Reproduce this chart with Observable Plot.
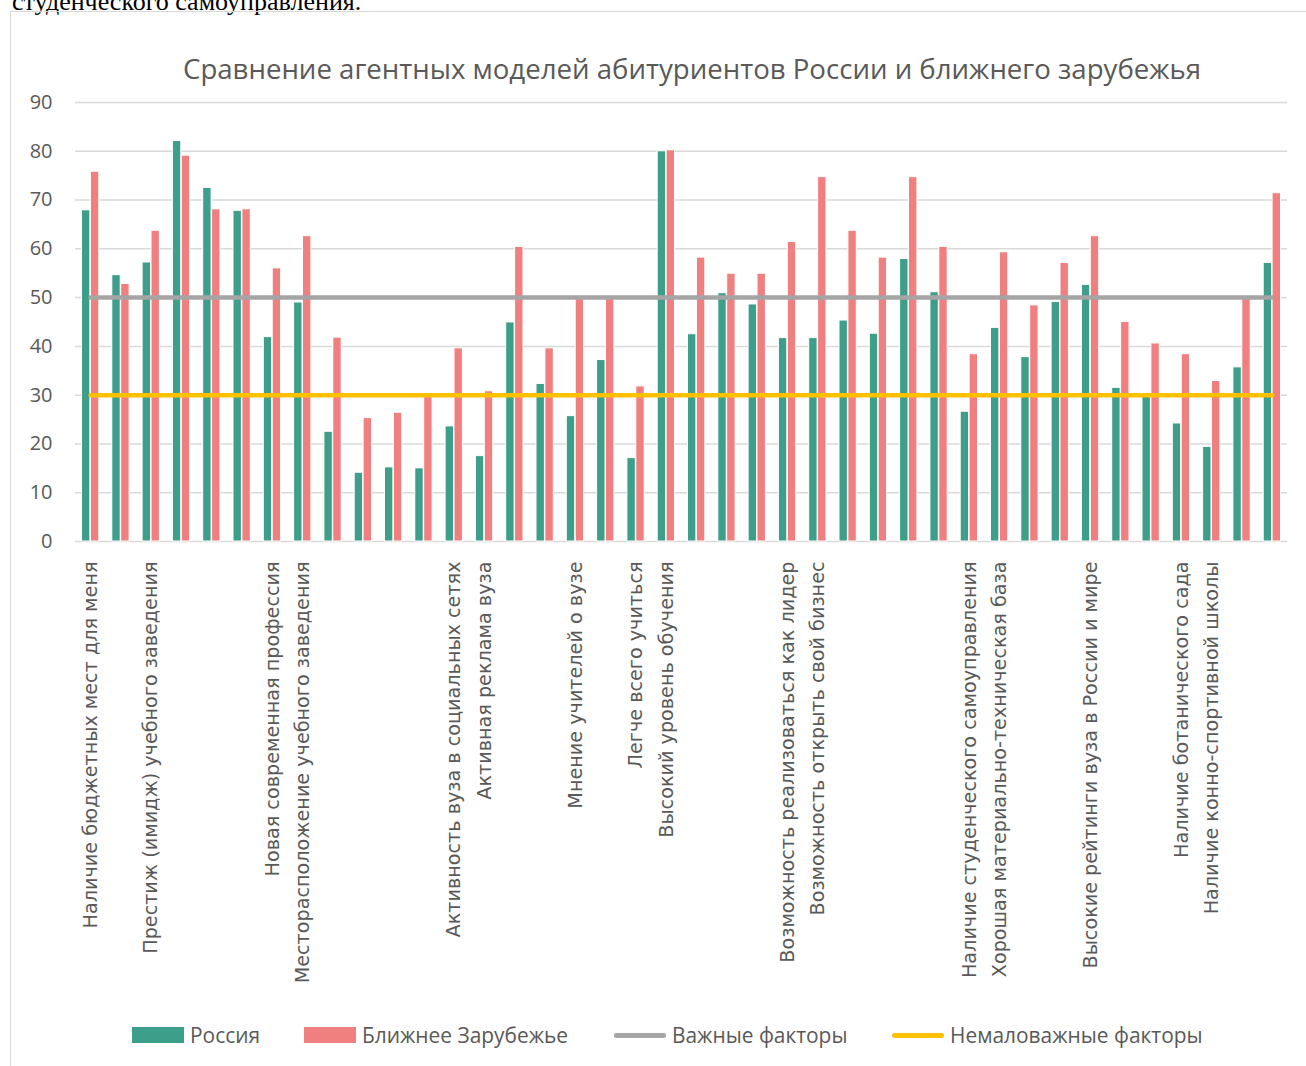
<!DOCTYPE html>
<html><head><meta charset="utf-8">
<script src="https://cdn.jsdelivr.net/npm/d3@7"></script>
<script src="https://cdn.jsdelivr.net/npm/@observablehq/plot@0.6"></script>
<style>
html,body{margin:0;padding:0;background:#fff;}
#page{position:relative;width:1306px;height:1066px;overflow:hidden;background:#fff;}
#above{position:absolute;left:12px;top:-14px;font-family:"Liberation Serif",serif;font-size:26px;color:#000;white-space:nowrap;line-height:1.2;}
#frame{position:absolute;left:10px;top:11px;width:1400px;height:1200px;border:1.5px solid #D9D9D9;}
#title{position:absolute;left:183px;top:52px;font-family:"Open Sans",sans-serif;font-size:27.6px;color:#595959;white-space:nowrap;line-height:1.2;}
#chart{position:absolute;left:0;top:80px;}
.leg{position:absolute;top:1022px;height:26px;display:flex;align-items:center;font-family:"Open Sans",sans-serif;font-size:20.9px;color:#595959;white-space:nowrap;}
.sw{display:inline-block;width:52px;height:16px;margin-right:6px;}
.ln{display:inline-block;width:52px;height:5px;border-radius:3px;margin-right:6px;}
</style></head>
<body><div id="page">
<div id="above">студенческого самоуправления.</div>
<div id="frame"></div>
<div id="title"></div>
<div id="chart"></div>
<div id="legend"></div>
</div>
<script>
const chartTitle = "Сравнение агентных моделей абитуриентов России и ближнего зарубежья";
const categories = [
  "Наличие бюджетных мест для меня", "", "Престиж (имидж) учебного заведения", "", "", "",
  "Новая современная профессия", "Месторасположение учебного заведения", "", "", "", "",
  "Активность вуза в социальных сетях", "Активная реклама вуза", "", "",
  "Мнение учителей о вузе", "", "Легче всего учиться", "Высокий уровень обучения", "", "", "",
  "Возможность реализоваться как лидер", "Возможность открыть свой бизнес", "", "", "", "",
  "Наличие студенческого самоуправления", "Хорошая материально-техническая база", "", "",
  "Высокие рейтинги вуза в России и мире", "", "", "Наличие ботанического сада",
  "Наличие конно-спортивной школы", "", ""
];
const russia = [67.9, 54.6, 57.2, 82.1, 72.5, 67.8, 41.9, 49.0, 22.5, 14.1, 15.2, 15.0, 23.6, 17.5, 44.9, 32.3, 25.7, 37.2, 17.1, 80.0,
  42.5, 50.9, 48.6, 41.7, 41.7, 45.3, 42.6, 57.9, 51.1, 26.6, 43.8, 37.8, 49.1, 52.6, 31.5, 29.9, 24.2, 19.4, 35.7, 57.1];
const abroad = [75.8, 52.8, 63.7, 79.1, 68.1, 68.1, 56.0, 62.6, 41.8, 25.3, 26.4, 29.9, 39.6, 30.8, 60.4, 39.6, 49.7, 49.7, 31.8, 80.2,
  58.2, 54.9, 54.9, 61.4, 74.7, 63.7, 58.2, 74.7, 60.4, 38.4, 59.3, 48.4, 57.1, 62.6, 45.0, 40.6, 38.4, 32.9, 49.7, 71.4];
const importantLevel = 50;
const notableLevel = 30;
const yTicks = [0, 10, 20, 30, 40, 50, 60, 70, 80, 90];
const seriesNames = ["Россия", "Ближнее Зарубежье", "Важные факторы", "Немаловажные факторы"];
const seriesColors = ["#3D9E8A", "#F08080", "#A5A5A5", "#FFC000"];

const idx = d3.range(categories.length);

document.getElementById("title").textContent = chartTitle;

const plot = Plot.plot({
  width: 1306, height: 932,
  marginLeft: 75, marginRight: 19, marginTop: 22, marginBottom: 471,
  style: {color: "#595959", background: "transparent", fontFamily: "'DejaVu Sans', sans-serif"},
  x: {type: "band", domain: idx, padding: 0, round: false, axis: null},
  y: {domain: [0, 90], axis: null},
  marks: [
    Plot.ruleY(yTicks, {stroke: "#D9D9D9", strokeWidth: 1.5}),
    Plot.axisY({ticks: yTicks, tickSize: 0, tickPadding: 23, fontSize: 20, fontFamily: "'Open Sans', sans-serif"}),
    Plot.barY(idx, {x: i => i, y: i => russia[i], fill: seriesColors[0], stroke: "white", strokeWidth: 1, insetLeft: 6.5, insetRight: 15.4}),
    Plot.barY(idx, {x: i => i, y: i => abroad[i], fill: seriesColors[1], stroke: "white", strokeWidth: 1, insetLeft: 15.4, insetRight: 6.5}),
    Plot.lineY(idx, {x: i => i, y: () => importantLevel, stroke: seriesColors[2], strokeWidth: 4.5, strokeLinecap: "round"}),
    Plot.lineY(idx, {x: i => i, y: () => notableLevel, stroke: seriesColors[3], strokeWidth: 4.5, strokeLinecap: "round"}),
    Plot.axisX({ticks: idx, tickRotate: -90, tickSize: 0, tickPadding: 20, fontSize: 19.2, tickFormat: i => categories[i]})
  ]
});
document.getElementById("chart").appendChild(plot);

const legendPos = [132, 304, 614, 892];
const legend = document.getElementById("legend");
seriesNames.forEach((name, k) => {
  const item = document.createElement("div");
  item.className = "leg";
  item.style.left = legendPos[k] + "px";
  const sw = document.createElement("span");
  sw.className = k < 2 ? "sw" : "ln";
  sw.style.background = seriesColors[k];
  item.appendChild(sw);
  const t = document.createElement("span");
  t.textContent = name;
  item.appendChild(t);
  legend.appendChild(item);
});
</script>
</body></html>
